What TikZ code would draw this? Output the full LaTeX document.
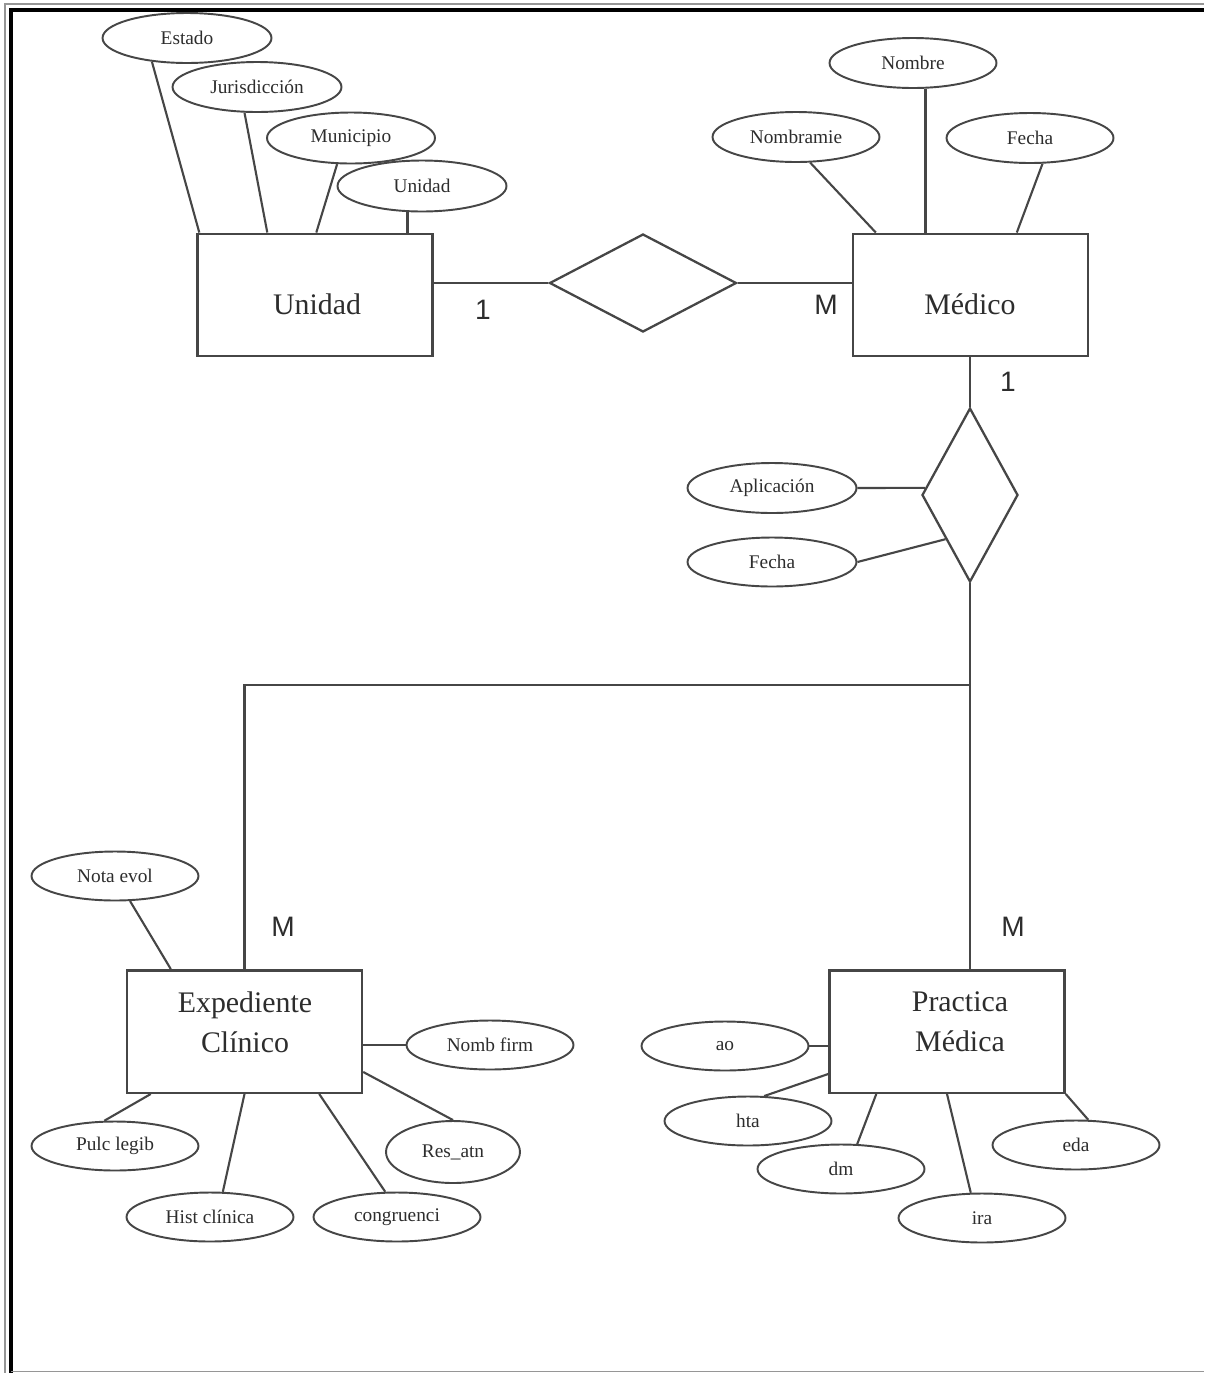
\documentclass[tikz,border=0pt]{standalone}
\usepackage{fontspec}
\setmainfont{Liberation Serif}
\newfontfamily\cardfont{Liberation Sans}
\usetikzlibrary{shapes.geometric,calc}
\definecolor{ink}{RGB}{70,70,70}
\definecolor{txt}{RGB}{45,45,45}
\definecolor{framegray}{RGB}{150,150,150}
\begin{document}
\begin{tikzpicture}[x=0.02cm,y=-0.02cm,
  entity/.style={draw=ink,line width=1.4pt,inner sep=0,minimum width=4.7cm,minimum height=2.45cm},
  enttext/.style={font=\fontsize{17}{23}\selectfont,text=txt,align=center,inner sep=0},
  rel/.style={diamond,draw=ink,line width=1.3pt,inner sep=0},
  attr/.style={ellipse,draw=ink,line width=1.1pt,fill=white,inner sep=0,
    font=\fontsize{11}{13}\selectfont,text=txt,minimum width=3.34cm,minimum height=0.98cm},
  conn/.style={draw=ink,line width=1.2pt},
  card/.style={font=\cardfont\fontsize{16}{19}\selectfont,text=txt,inner sep=0}]

% page and frame
\useasboundingbox (0,0) rectangle (1204,1373);
\fill[white] (0,0) rectangle (1204,1373);
\draw[framegray,line width=1.2pt] (5,1373) -- (5,4) -- (1204,4);
\draw[black,line width=1.8pt] (11,1373) -- (11,10) -- (1204,10);
\draw[framegray,line width=1pt] (11,1371.5) -- (1204,1371.5);

% entities
\node[entity] (unidad) at (315,295) {};
\node[enttext] (unidad-t) at (317,304) {Unidad};
\node[entity] (medico) at (970.5,295) {};
\node[enttext] (medico-t) at (970,304) {Médico};
\node[entity] (exp) at (244.5,1031.5) {};
\node[enttext] (exp-t) at (245,1022) {Expediente\\Clínico};
\node[entity] (prac) at (947,1031.5) {};
\node[enttext] (prac-t) at (960,1022) {Practica\\Médica};

% relationships
\node[rel,minimum width=3.74cm,minimum height=1.96cm] (rel1) at (643,283) {};
\node[rel,minimum width=1.92cm,minimum height=3.48cm] (rel2) at (970,495) {};

% attributes of Unidad
\node[attr,minimum width=3.38cm,minimum height=1cm] (estado) at (187,38) {Estado};
\node[attr,minimum width=3.38cm,minimum height=1cm] (jurisd) at (257,87) {Jurisdicción};
\node[attr,minimum width=3.36cm,minimum height=1.02cm] (munic) at (351,138) {Municipio};
\node[attr,minimum width=3.38cm,minimum height=1.02cm] (uniatt) at (422,186) {Unidad};

% attributes of Médico
\node[attr,minimum height=1cm] (nombre) at (913,63) {Nombre};
\node[attr,minimum height=1cm] (nombram) at (796,137) {Nombramie};
\node[attr,minimum height=1cm] (fecha1) at (1030,138) {Fecha};

% attributes of the Médico relationship
\node[attr,minimum width=3.38cm,minimum height=1cm] (aplic) at (772,488) {Aplicación};
\node[attr,minimum width=3.38cm] (fecha2) at (772,562) {Fecha};

% attributes of Expediente Clínico
\node[attr] (nota) at (115,876) {Nota evol};
\node[attr] (nomb) at (490,1045) {Nomb firm};
\node[attr,minimum width=2.68cm,minimum height=1.24cm] (resatn) at (453,1152) {Res\_atn};
\node[attr] (congr) at (397,1217) {congruenci};
\node[attr] (hist) at (210,1217) {Hist clínica};
\node[attr] (pulc) at (115,1146) {Pulc legib};

% attributes of Practica Médica
\node[attr] (ao) at (725,1046) {ao};
\node[attr] (hta) at (748,1121) {hta};
\node[attr] (dm) at (841,1169) {dm};
\node[attr] (ira) at (982,1218) {ira};
\node[attr] (eda) at (1076,1145) {eda};

% connectors: Unidad
\draw[conn] (estado.214) -- ($(unidad.north west)+(3,0)$);
\draw[conn] (jurisd.244) -- ($(unidad.north west)+(71,0)$);
\draw[conn] (munic.242) -- ($(unidad.north west)+(120,0)$);
\draw[conn] (uniatt.241) -- (uniatt.241 |- unidad.north);

% connectors: Médico
\draw[conn] (nombram.299) -- ($(medico.north west)+(24,0)$);
\draw[conn] (nombre.296) -- (nombre.296 |- medico.north);
\draw[conn] (fecha1.296) -- ($(medico.north west)+(165,0)$);

% Unidad -- Médico
\draw[conn] (rel1.west) -- (rel1.west -| unidad.east);
\draw[conn] (rel1.east) -- (rel1.east -| medico.west);

% Médico -- second relationship
\draw[conn] (rel2.north) -- (rel2.north |- medico.south);
\draw[conn] (aplic.east) -- (rel2.171);
\draw[conn] (fecha2.east) -- (rel2.241);

% branch to Expediente Clínico and Practica Médica
\coordinate (junc) at (970,685);
\draw[conn] (rel2.south) -- (rel2.south |- prac.north);
\draw[conn] (exp.north) |- (junc);

% connectors: Expediente Clínico
\draw[conn] (nota.301) -- ($(exp.north west)+(45,0)$);
\draw[conn] (nomb.west) -- (nomb.west -| exp.east);
\draw[conn] (resatn.north) -- ($(exp.south east)+(0,-22)$);
\draw[conn] (congr.115) -- ($(exp.south east)+(-44,0)$);
\draw[conn] (hist.63) -- (exp.south);
\draw[conn] (pulc.113) -- ($(exp.south west)+(25,0)$);

% connectors: Practica Médica
\draw[conn] (ao.east) -- (ao.east -| prac.west);
\draw[conn] (hta.57) -- ($(prac.south west)+(0,-20)$);
\draw[conn] (dm.57) -- ($(prac.south west)+(48,0)$);
\draw[conn] (ira.114) -- (prac.south);
\draw[conn] (eda.64) -- (prac.south east);

% cardinalities
\node[card] (c1) at (483,310) {1};
\node[card] (c2) at (826,305) {M};
\node[card] (c3) at (1008,382) {1};
\node[card] (c4) at (283,927) {M};
\node[card] (c5) at (1013,927) {M};
\end{tikzpicture}
\end{document}
